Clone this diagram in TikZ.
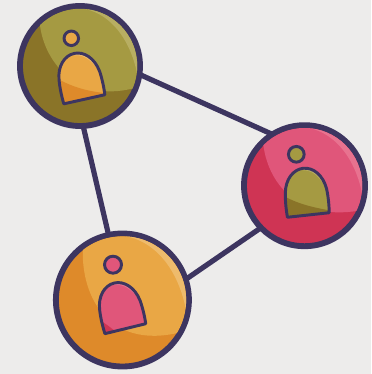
\documentclass[tikz,border=0pt]{standalone}
\definecolor{bgc}{HTML}{EDECEB}
\definecolor{ink}{HTML}{3D3560}
\definecolor{oliD}{HTML}{8A7428}
\definecolor{oliM}{HTML}{A59A42}
\definecolor{oliL}{HTML}{B8AE62}
\definecolor{pnkD}{HTML}{CF3454}
\definecolor{pnkM}{HTML}{E0567A}
\definecolor{pnkL}{HTML}{E8728F}
\definecolor{orgD}{HTML}{DE8A2A}
\definecolor{orgM}{HTML}{E9A745}
\definecolor{orgL}{HTML}{EEBB6C}
\tikzset{
  x=0.75pt,y=-0.75pt,
  disk/.style={circle,draw=ink,line width=4.4pt,minimum size=#1*0.75pt,inner sep=0pt,outer sep=0pt},
  headdot/.style={circle,draw=ink,line width=2.2pt,minimum size=#1*0.75pt,inner sep=0pt,outer sep=0pt},
  link/.style={draw=ink,line width=3.9pt}
}
% \bubbleshade{cx}{cy}{R centreline}{mid}{light}{boundary curve}
\newcommand{\bubbleshade}[6]{%
  \begin{scope}
    \clip (#1,#2) circle[radius=#3-2.8];
    \begin{scope}[shift={(#1,#2)},x={(#3*0.78pt,0)},y={(0,-#3*0.78pt)}]
      \fill[#4] (-0.66,-1.1) -- #6 -- (1.2,0.3) -- (1.2,-1.1) -- cycle;
      \fill[#5] (-0.1,-1.1) -- (-0.1,-0.94) .. controls (0.45,-0.92) and (0.82,-0.45) .. (0.93,0.2) -- (1.2,0.2) -- (1.2,-1.1) -- cycle;
    \end{scope}
  \end{scope}}
% \personshape{x}{y}{rot}{dark}{mid}{light}{dark arc}
\newcommand{\personshape}[7]{%
  \begin{scope}[shift={(#1,#2)},rotate=#3]
    \def\body{(-21,0) .. controls (-21.5,-8) and (-21.5,-16) .. (-20.5,-24) .. controls (-19,-38) and (-10,-47) .. (0,-47) .. controls (10,-47) and (19,-38) .. (21,-24) .. controls (21.9,-16) and (21.7,-6) .. (21,0) -- cycle}
    \begin{scope}
      \expandafter\clip\body;
      \fill[#5] (-30,-50) rectangle (30,5);
      \fill[#4] #7 -- (30,6) -- (-30,6) -- cycle;
      \fill[#6] (0,-50) -- (0,-45) .. controls (9,-44) and (15,-37) .. (20,-26) -- (26,-26) -- (26,-50) -- cycle;
    \end{scope}
    \expandafter\draw\body[draw=ink,line width=2.2pt,line join=round];
  \end{scope}}
\begin{document}
\begin{tikzpicture}
\useasboundingbox (0,0) rectangle (371,374);
\fill[bgc] (0,0) rectangle (371,374);
% discs
\node[disk=120,fill=oliD] (a) at (80,66) {};
\node[disk=121,fill=pnkD] (b) at (304.5,185.7) {};
\node[disk=133,fill=orgD] (c) at (122.4,300) {};
% connectors
\draw[link] (a.-8.5) -- (b.122);
\draw[link] (a.-87) -- (c.102);
\draw[link] (b.224) -- (c.18.5);
% shading
\bubbleshade{80}{66}{60}{oliM}{oliL}{(-0.65,-0.75) .. controls (-0.62,-0.1) and (-0.05,0.65) .. (0.95,0.33)}
\bubbleshade{304.5}{185.7}{60.5}{pnkM}{pnkL}{(-0.66,-0.7) .. controls (-0.6,-0.05) and (-0.1,0.6) .. (0.95,0.38)}
\bubbleshade{122.4}{300}{66.5}{orgM}{orgL}{(-0.57,-0.8) .. controls (-0.62,0) and (-0.15,0.75) .. (0.9,0.45)}
% people
\node[headdot=14.5,fill=orgM] (ha) at (71.3,38.3) {};
\personshape{84.3}{99.3}{12.5}{orgD}{orgM}{orgL}{(-26,-30) .. controls (-12,-16) and (5,-6) .. (30,1)}
\node[headdot=15.7,fill=oliM] (hb) at (296.3,154.3) {};
\personshape{308.3}{215}{6.2}{oliD}{oliM}{oliL}{(-26,-24) .. controls (-12,-14) and (0,-8) .. (30,0)}
\node[headdot=17,fill=pnkM] (hc) at (113,264.7) {};
\personshape{125.3}{328.7}{13.7}{pnkD}{pnkM}{pnkL}{(-28,-20) .. controls (-20,-12) and (-14,-5) .. (-6,6)}
\end{tikzpicture}
\end{document}
